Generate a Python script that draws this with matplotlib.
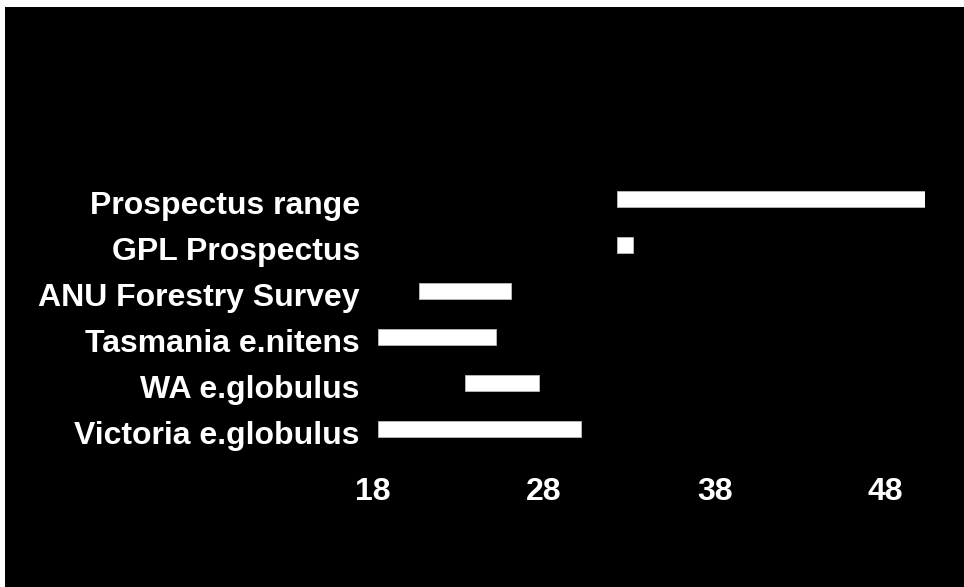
import matplotlib
matplotlib.use("Agg")
import matplotlib.pyplot as plt
import matplotlib.transforms as mtransforms
from matplotlib.patches import Rectangle

# floating bar ranges, bottom row first
sources = ["Victoria e.globulus", "WA e.globulus", "Tasmania e.nitens",
           "ANU Forestry Survey", "GPL Prospectus", "Prospectus range"]
low = [18.0, 23.1, 18.0, 20.4, 32.0, 32.0]
high = [29.9, 27.4, 24.9, 25.8, 32.9, 50.0]
ticks = [18, 28, 38, 48]

plt.rcParams['font.family'] = ['Liberation Sans', 'DejaVu Sans']

fig = plt.figure(figsize=(9.64, 5.87), dpi=100)
fig.patch.set_facecolor("white")
# black slide area with a thin white margin at left/top
fig.add_artist(Rectangle((5 / 964, 0), 1 - 5 / 964, 1 - 7 / 587,
                         transform=fig.transFigure, facecolor="black",
                         edgecolor="none", zorder=0))

ax = fig.add_axes([378 / 964, 0.2300, (925 - 378) / 964, 0.4707])
ax.set_facecolor("black")

widths = [h - l for l, h in zip(low, high)]
ax.barh(range(len(sources)), widths, left=low, height=0.35,
        color="white", edgecolor="#bbbbbb", linewidth=0.6)

ax.set_xlim(18, 50)
ax.set_ylim(-0.5, len(sources) - 0.5)
ax.set_yticks(range(len(sources)))
ax.set_yticklabels(sources)
ax.set_xticks(ticks)
ax.set_xticklabels([str(t) for t in ticks])
ax.tick_params(axis="y", length=0, pad=13, labelsize=23, labelcolor="white")
ax.tick_params(axis="x", length=0, pad=18, labelsize=23, labelcolor="white")
for lab in ax.get_yticklabels() + ax.get_xticklabels():
    lab.set_fontweight("bold")

# the labels sit a few pixels off their ticks in the original
xoff = mtransforms.ScaledTranslation(-5 / 100, 0, fig.dpi_scale_trans)
for lab in ax.get_xticklabels():
    lab.set_transform(lab.get_transform() + xoff)
yoff = mtransforms.ScaledTranslation(0, -4 / 100, fig.dpi_scale_trans)
for lab in ax.get_yticklabels():
    lab.set_transform(lab.get_transform() + yoff)

for s in ax.spines.values():
    s.set_visible(False)

fig.savefig("out.png", dpi=100, facecolor=fig.get_facecolor())
